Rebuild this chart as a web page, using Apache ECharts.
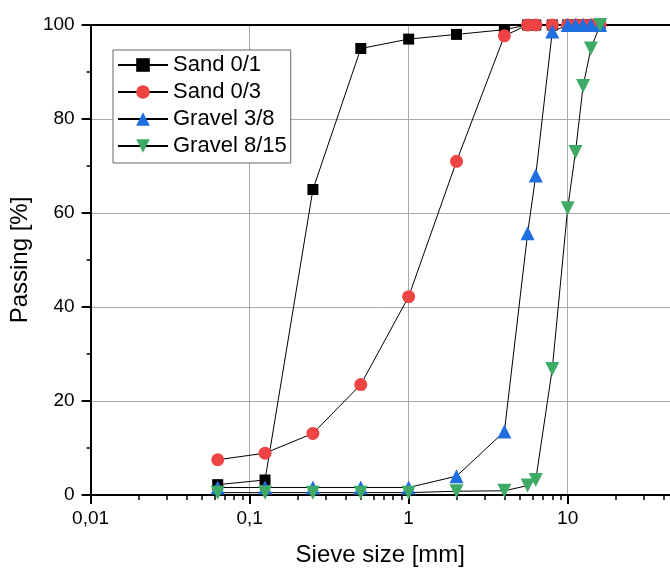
<!DOCTYPE html>
<html>
<head>
<meta charset="utf-8">
<script src="https://cdn.jsdelivr.net/npm/echarts@6/dist/echarts.min.js"></script>
<style>
html,body{margin:0;padding:0;background:#fff;}
#chart{width:670px;height:572px;}
</style>
</head>
<body>
<div id="chart"></div>
<script>
const sieveSizes = [0.063, 0.125, 0.25, 0.5, 1, 2, 4, 5.6, 6.3, 8, 10, 11.2, 12.5, 14, 16];
const sand01 =    [2.2, 3.2, 65, 95, 97, 98, 99, 100, 100, 100, 100, 100, 100, 100, 100];
const sand03 =    [7.5, 8.9, 13.1, 23.5, 42.2, 71, 97.7, 100, 100, 100, 100, 100, 100, 100, 100];
const gravel38 =  [1.6, 1.6, 1.6, 1.6, 1.6, 4, 13.5, 55.7, 68, 98.6, 100, 100, 100, 100, 100];
const gravel815 = [0.5, 0.5, 0.5, 0.5, 0.5, 0.8, 0.9, 2, 3.2, 26.8, 61, 73, 87, 95, 100];
const seriesNames = ['Sand 0/1', 'Sand 0/3', 'Gravel 3/8', 'Gravel 8/15'];
const majorTicksX = [0.01, 0.1, 1, 10];
const minorTicksX = [0.02,0.03,0.04,0.05,0.06,0.07,0.08,0.09,0.2,0.3,0.4,0.5,0.6,0.7,0.8,0.9,2,3,4,5,6,7,8,9,20,30,40];
const yTicks = [0, 20, 40, 60, 80, 100];

const pair = arr => sieveSizes.map((s, i) => [s, arr[i]]);
const FONT = 'Liberation Sans, Arial, sans-serif';
const xMin = 0.01, xMax = 44;

const chart = echarts.init(document.getElementById('chart'), null, {renderer: 'canvas'});
const mk = (name, data, symbol, size, color, rot) => ({
  name, type: 'line', data: pair(data), xAxisIndex: 0, yAxisIndex: 0,
  symbol, symbolSize: size, symbolRotate: rot || 0, showAllSymbol: true,
  itemStyle: {color, borderWidth: 0},
  lineStyle: {color: '#000', width: 1},
  emphasis: {disabled: true}, animation: false
});

chart.setOption({
  animation: false,
  textStyle: {fontFamily: FONT},
  grid: {left: 88, top: 25, right: 0, bottom: 71, containLabel: false},
  legend: {
    orient: 'vertical', left: 113, top: 50,
    backgroundColor: '#fff', borderColor: '#666', borderWidth: 1,
    padding: [4, 4, 6, 4], itemWidth: 50, itemHeight: 17, itemGap: 5,
    textStyle: {fontSize: 22, color: '#000', fontFamily: FONT},
    data: seriesNames
  },
  xAxis: [
    {
      type: 'log', logBase: 10, min: xMin, max: xMax, position: 'bottom',
      name: 'Sieve size [mm]', nameLocation: 'middle', nameGap: 48,
      nameTextStyle: {fontSize: 24, color: '#000', fontFamily: FONT},
      axisLine: {show: true, onZero: false, lineStyle: {color: '#000', width: 2}},
      axisTick: {show: true, inside: false, length: 9, customValues: majorTicksX, lineStyle: {color: '#000', width: 2}},
      axisLabel: {show: true, customValues: majorTicksX, margin: 14, fontSize: 19, color: '#000', fontFamily: FONT,
        formatter: v => String(+(+v).toPrecision(6)).replace('.', ',')},
      splitLine: {show: true, lineStyle: {color: '#aaa', width: 1}},
      minorTick: {show: false}
    },
    {
      type: 'log', logBase: 10, min: xMin, max: xMax, position: 'top',
      axisLine: {show: true, onZero: false, lineStyle: {color: '#000', width: 2}},
      axisTick: {show: false}, axisLabel: {show: false}, splitLine: {show: false}
    },
    {
      type: 'log', logBase: 10, min: xMin, max: xMax, position: 'bottom',
      axisLine: {show: false, onZero: false},
      axisTick: {show: true, inside: false, length: 5, customValues: minorTicksX, lineStyle: {color: '#000', width: 1.5}},
      axisLabel: {show: false}, splitLine: {show: false}
    }
  ],
  yAxis: [{
    type: 'value', min: 0, max: 100, interval: 20,
    name: 'Passing [%]', nameLocation: 'middle', nameGap: 52,
    nameTextStyle: {fontSize: 24, color: '#000', fontFamily: FONT},
    axisLine: {show: true, onZero: false, lineStyle: {color: '#000', width: 2}},
    axisTick: {show: true, inside: false, length: 9, lineStyle: {color: '#000', width: 2}},
    minorTick: {show: true, splitNumber: 2, length: 4, lineStyle: {color: '#000', width: 1.5}},
    axisLabel: {margin: 16, fontSize: 19, color: '#000', fontFamily: FONT},
    splitLine: {show: true, lineStyle: {color: '#aaa', width: 1}}
  }],
  series: [
    mk(seriesNames[0], sand01, 'rect', 11, '#000000'),
    mk(seriesNames[1], sand03, 'circle', 13, '#EF4444'),
    mk(seriesNames[2], gravel38, 'triangle', 14, '#1F6FE0'),
    mk(seriesNames[3], gravel815, 'triangle', 14, '#3DAA66', 180)
  ]
});
</script>
</body>
</html>
